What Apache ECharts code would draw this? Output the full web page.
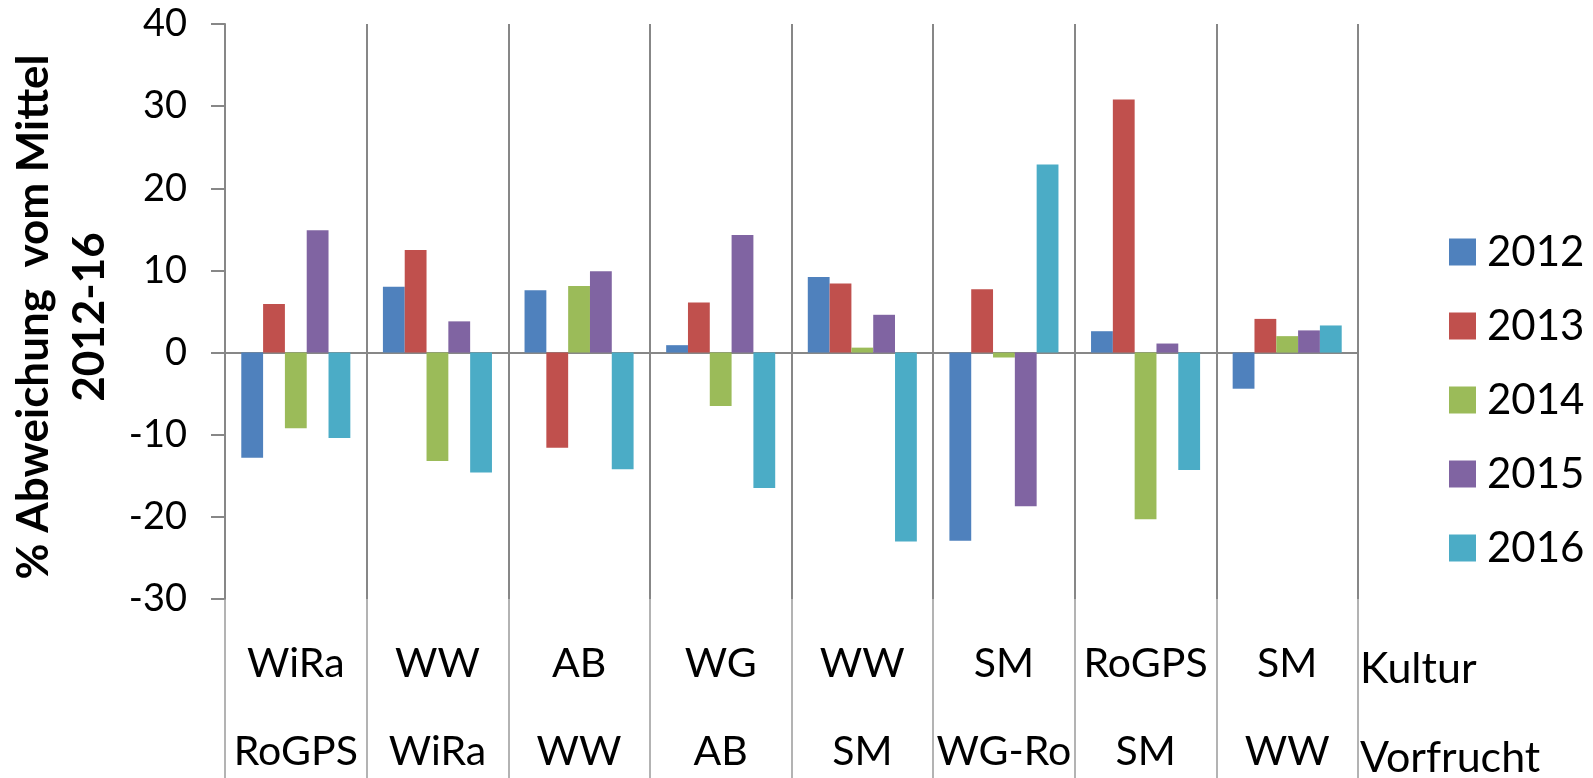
<!DOCTYPE html>
<html>
<head>
<meta charset="utf-8">
<script src="https://cdn.jsdelivr.net/npm/echarts@6/dist/echarts.min.js"></script>
<style>
  html, body { margin: 0; padding: 0; background: #fff; }
  #chart { width: 1593px; height: 778px; }
</style>
</head>
<body>
<div id="chart"></div>
<script>
// Crop (Kultur) and preceding crop (Vorfrucht) per field
const kultur = ['WiRa', 'WW', 'AB', 'WG', 'WW', 'SM', 'RoGPS', 'SM'];
const vorfrucht = ['RoGPS', 'WiRa', 'WW', 'AB', 'SM', 'WG-Ro', 'SM', 'WW'];

// Deviation from the 2012-16 mean, in %
const years = ['2012', '2013', '2014', '2015', '2016'];
const v2012 = [-12.8, 8.0, 7.6, 0.9, 9.2, -22.9, 2.6, -4.4];
const v2013 = [5.9, 12.5, -11.6, 6.1, 8.4, 7.7, 30.8, 4.1];
const v2014 = [-9.2, -13.2, 8.1, -6.5, 0.6, -0.6, -20.3, 2.0];
const v2015 = [14.9, 3.8, 9.9, 14.3, 4.6, -18.7, 1.1, 2.7];
const v2016 = [-10.4, -14.6, -14.2, -16.5, -23.0, 22.9, -14.3, 3.3];

const yTicks = { min: -30, max: 40, interval: 10 };

const colors = ['#4F81BD', '#C0504D', '#9BBB59', '#8064A2', '#4BACC6'];
const seriesValues = [v2012, v2013, v2014, v2015, v2016];

const FONT = 'Lato, "Open Sans", sans-serif';
const AXIS_GRAY = '#878787';

// one unique key per field
const catKeys = kultur.map((k, i) => k + '|' + vorfrucht[i]);

const chart = echarts.init(document.getElementById('chart'), null, { renderer: 'canvas' });

function rowAxis(labels, margin, withTicks) {
  return {
    type: 'category',
    data: catKeys,
    position: 'bottom',
    axisLine: { show: false, onZero: false },
    axisTick: {
      show: withTicks,
      interval: 0,
      length: 185,
      lineStyle: { color: '#9a9a9a', width: 1.5 }
    },
    axisLabel: {
      interval: 0,
      margin: margin,
      fontFamily: FONT,
      fontSize: 41,
      color: '#000',
      verticalAlign: 'middle',
      formatter: (v, i) => labels[i]
    },
    splitLine: { show: false }
  };
}

const option = {
  animation: false,
  backgroundColor: '#ffffff',
  textStyle: { fontFamily: FONT },
  grid: { left: 225, right: 235, top: 24, bottom: 179, containLabel: false },
  legend: {
    orient: 'vertical',
    left: 1444,
    top: 226,
    itemWidth: 27,
    itemHeight: 27,
    itemGap: 32,
    icon: 'rect',
    data: years,
    textStyle: {
      fontFamily: FONT,
      fontSize: 42,
      color: '#000',
      padding: [0, 0, 0, 6]
    }
  },
  xAxis: [
    {
      // horizontal line through zero with field separators
      type: 'category',
      data: catKeys,
      position: 'top',
      axisLine: { onZero: true, lineStyle: { color: AXIS_GRAY, width: 2 } },
      axisTick: { show: false },
      axisLabel: { show: false },
      splitLine: { show: true, interval: 0, lineStyle: { color: AXIS_GRAY, width: 2 } }
    },
    rowAxis(kultur, 65, true),
    rowAxis(vorfrucht, 153, false)
  ],
  yAxis: {
    type: 'value',
    min: yTicks.min,
    max: yTicks.max,
    interval: yTicks.interval,
    axisLine: { show: true, lineStyle: { color: AXIS_GRAY, width: 2 } },
    axisTick: { show: true, length: 14, lineStyle: { color: AXIS_GRAY, width: 2 } },
    axisLabel: { margin: 38, fontFamily: FONT, fontSize: 38, color: '#000' },
    splitLine: { show: false }
  },
  series: years.map((y, i) => ({
    name: y,
    type: 'bar',
    xAxisIndex: 0,
    data: seriesValues[i],
    barGap: '0%',
    barCategoryGap: '23%',
    itemStyle: { color: colors[i] }
  })),
  graphic: [
    {
      type: 'text',
      x: 1360,
      y: 669,
      style: { text: 'Kultur', font: '43px ' + FONT, fill: '#000', align: 'left', verticalAlign: 'middle' }
    },
    {
      type: 'text',
      x: 1360,
      y: 758,
      style: { text: 'Vorfrucht', font: '43px ' + FONT, fill: '#000', align: 'left', verticalAlign: 'middle' }
    },
    {
      type: 'text',
      x: 62,
      y: 317,
      rotation: Math.PI / 2,
      style: {
        text: '% Abweichung  vom Mittel\n2012-16',
        font: 'bold 44px ' + FONT,
        fill: '#000',
        align: 'center',
        verticalAlign: 'middle',
        lineHeight: 56
      }
    }
  ]
};

chart.setOption(option);
</script>
</body>
</html>
